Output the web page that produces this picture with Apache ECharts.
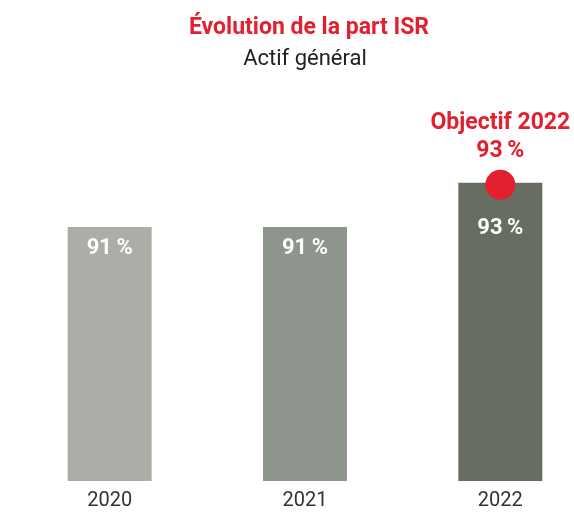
<!DOCTYPE html>
<html>
<head>
<meta charset="utf-8">
<script src="https://cdn.jsdelivr.net/npm/echarts@6/dist/echarts.min.js"></script>
<style>
  html, body { margin: 0; padding: 0; background: #fff; }
  #main { width: 574px; height: 513px; }
</style>
</head>
<body>
<div id="main"></div>
<script>
// data
var years = ['2020', '2021', '2022'];
var shares = [91, 91, 93];
var targetYear = '2022';
var targetValue = 93;

var barColors = ['#abada6', '#8e958c', '#686d61'];
var red = '#e3202f';

var option = {
	animation: false,
	title: [{
		text: 'Évolution de la part ISR',
		left: 304,
		top: 12,
		textAlign: 'center',
		textStyle: { color: red, fontFamily: 'Roboto', fontWeight: 'bold', fontSize: 23 }
	}, {
		text: 'Actif général',
		left: 300,
		top: 43,
		textAlign: 'center',
		textStyle: { color: '#222', fontFamily: 'Roboto', fontWeight: 'normal', fontSize: 22 }
	}],
	grid: {
		left: 12,
		width: 586,
		top: 94.5,
		bottom: 32,
		outerBoundsMode: 'none',
		containLabel: false
	},
	xAxis: {
		type: 'category',
		data: years,
		axisLine: { show: false },
		axisTick: { show: false },
		axisLabel: { color: '#333', fontFamily: 'Roboto', fontSize: 20, margin: 10 }
	},
	yAxis: {
		type: 'value',
		min: 79.5,
		max: 97,
		show: false
	},
	series: [{
		type: 'bar',
		barWidth: 84,
		data: shares.map(function (v, i) {
			return {
				value: v,
				itemStyle: { color: barColors[i] },
				label: { distance: years[i] === targetYear ? 35 : 10 }
			};
		}),
		label: {
			show: true,
			position: 'insideTop',
			formatter: function (p) { return p.value + '\u2009%'; },
			color: '#fff',
			fontFamily: 'Roboto',
			fontWeight: 'bold',
			fontSize: 22
		}
	}, {
		type: 'scatter',
		data: [[targetYear, targetValue]],
		symbolSize: 30,
		symbolOffset: [0, 2],
		itemStyle: { color: red, opacity: 1 },
		z: 5,
		label: {
			show: true,
			position: 'top',
			distance: 5,
			formatter: function (p) { return 'Objectif ' + p.value[0] + '\n' + p.value[1] + '\u2009%'; },
			color: red,
			fontFamily: 'Roboto',
			fontWeight: 'bold',
			fontSize: 23,
			lineHeight: 28,
			align: 'center'
		}
	}]
};
var myChart = echarts.init(document.getElementById('main'));
myChart.setOption(option);
</script>
</body>
</html>
